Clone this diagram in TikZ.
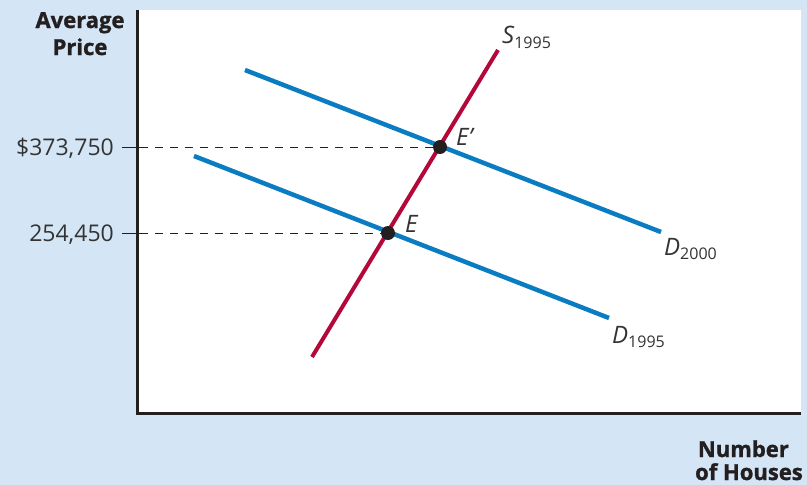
\documentclass[tikz,border=0pt]{standalone}
\usepackage{fontspec}
\setmainfont{Open Sans}
\newfontfamily\heavyfont[FakeBold=1.2]{Open Sans Bold}
\definecolor{bg}{HTML}{D4E5F5}
\definecolor{dblue}{HTML}{0A7DC2}
\definecolor{sred}{HTML}{B4083A}
\definecolor{ink}{HTML}{231F20}
\definecolor{txt}{HTML}{333333}
\begin{document}
\begin{tikzpicture}[x=1pt,y=-1pt,
  demand/.style={draw=dblue,line width=4.5pt},
  supply/.style={draw=sred,line width=4pt},
  axisline/.style={draw=ink,line width=3pt},
  tickline/.style={draw=ink,line width=1pt},
  guide/.style={draw=ink,line width=0.9pt,dash pattern=on 8pt off 7pt},
  dot/.style={circle,fill=ink,inner sep=0pt,minimum size=14pt},
  ticklab/.style={text=txt,font=\fontsize{23}{27}\selectfont,inner sep=0pt},
  curvelab/.style={text=txt,font=\fontsize{24}{28}\selectfont\itshape,inner sep=0pt},
  axtitle/.style={text=ink,font=\heavyfont\fontsize{22}{26}\selectfont,inner sep=0pt}
]
\useasboundingbox (0,0) rectangle (807,485);
\fill[bg] (0,0) rectangle (807,485);
\fill[white] (137,10) rectangle (801,413);
% curve end points
\coordinate (d2a) at (245,70);
\coordinate (d2b) at (661,232);
\coordinate (d1a) at (194,156);
\coordinate (d1b) at (609,318);
\coordinate (sa) at (312,357);
\coordinate (sb) at (498,50);
% axes
\coordinate (ytop) at (137,10);
\coordinate (origin) at (137,413);
\coordinate (xend) at (801,413);
% ticks
\coordinate (t2) at (122,147);
\coordinate (t1) at (122,233);
% curves
\draw[demand] (d2a) -- (d2b);
\draw[demand] (d1a) -- (d1b);
\draw[supply] (sa) -- (sb);
% equilibria
\node[dot] (Ep) at (440,147) {};
\node[dot] (E) at (388,233) {};
% guides
\draw[tickline] (t2) -- ++(18,0) coordinate (t2e);
\draw[tickline] (t1) -- ++(18,0) coordinate (t1e);
\draw[guide] (t2e) -- (Ep);
\draw[guide] (t1e) -- (E);
\draw[axisline] (ytop) -- (origin) -- (xend);
% labels
\node[ticklab,anchor=base east] (l2) at (114,155) {\$373,750};
\node[ticklab,anchor=base east] (l1) at (114,241) {254,450};
\node[curvelab,anchor=base west] (lEp) at (456,145) {E’};
\node[curvelab,anchor=base west] (lE) at (405,232) {E};
\node[curvelab,anchor=base west] (lS) at (502,43) {S{\upshape\fontsize{16}{16}\selectfont\raisebox{-5pt}{1995}}};
\node[curvelab,anchor=base west] (lD2) at (664,255) {D{\upshape\fontsize{16}{16}\selectfont\raisebox{-4.5pt}{2000}}};
\node[curvelab,anchor=base west] (lD1) at (612,343) {D{\upshape\fontsize{16}{16}\selectfont\raisebox{-4.5pt}{1995}}};
\node[axtitle,anchor=base] (ay1) at (80,28) {Average};
\node[axtitle,anchor=base] (ay2) at (80,55) {Price};
\node[axtitle,anchor=base east] (ax1) at (789,457) {Number};
\node[axtitle,anchor=base east] (ax2) at (803,480) {of Houses};
\end{tikzpicture}
\end{document}
